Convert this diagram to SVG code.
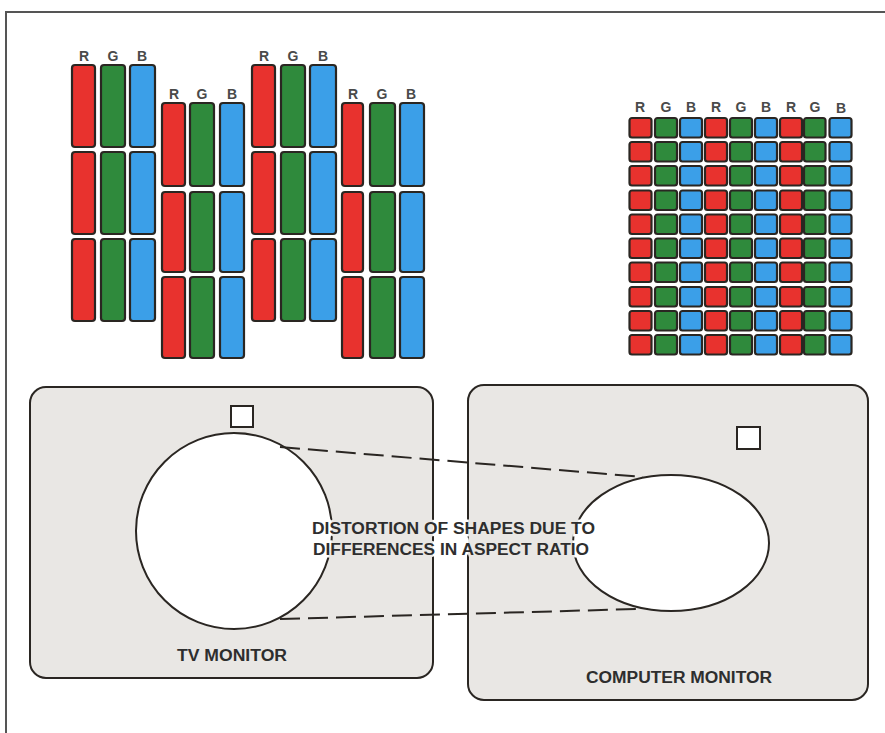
<svg xmlns="http://www.w3.org/2000/svg" width="885" height="733" viewBox="0 0 885 733">
<style>
.r{fill:#e8322e}.g{fill:#2f8a3c}.b{fill:#3b9fe8}
.cell rect{stroke:#2a2622;stroke-width:2.2}
.lbl{font-family:"Liberation Sans",Arial,sans-serif;font-weight:bold;fill:#4a4a4a;text-anchor:middle}
.t{font-family:"Liberation Sans",Arial,sans-serif;font-weight:bold;fill:#2e2e2e;font-size:16px}
.ol{fill:none;stroke:#2a2622;stroke-width:2}
.mon{fill:#e9e7e4}
</style>
<defs>
<mask id="knock" maskUnits="userSpaceOnUse" x="0" y="0" width="885" height="733">
<rect x="0" y="0" width="885" height="733" fill="#fff"/>
<g style="font-family:'Liberation Sans',Arial,sans-serif;font-weight:bold;font-size:16px" fill="#000" stroke="#000" stroke-width="5">
<text x="312" y="534" textLength="283" lengthAdjust="spacingAndGlyphs">DISTORTION OF SHAPES DUE TO</text>
<text x="313" y="555" textLength="276" lengthAdjust="spacingAndGlyphs">DIFFERENCES IN ASPECT RATIO</text>
</g>
</mask>
</defs>
<rect width="885" height="733" fill="#fff"/>
<g id="frame"><path d="M5 12 H885 M6 12 V733" fill="none" stroke="#555" stroke-width="2"/></g>

<g id="stripes" class="cell">
<g class="lbl" font-size="14"><text x="84" y="61">R</text><text x="113" y="61">G</text><text x="142" y="61">B</text>
<text x="174" y="99">R</text><text x="202" y="99">G</text><text x="232" y="99">B</text>
<text x="264" y="61">R</text><text x="293" y="61">G</text><text x="323" y="61">B</text>
<text x="353" y="99">R</text><text x="382" y="99">G</text><text x="411" y="99">B</text></g>
<g id="grp1">
<rect class="r" x="72" y="65" width="23" height="82" rx="3"/><rect class="g" x="101" y="65" width="24" height="82" rx="3"/><rect class="b" x="130" y="65" width="25" height="82" rx="3"/>
<rect class="r" x="72" y="152" width="23" height="82" rx="3"/><rect class="g" x="101" y="152" width="24" height="82" rx="3"/><rect class="b" x="130" y="152" width="25" height="82" rx="3"/>
<rect class="r" x="72" y="239" width="23" height="82" rx="3"/><rect class="g" x="101" y="239" width="24" height="82" rx="3"/><rect class="b" x="130" y="239" width="25" height="82" rx="3"/>
</g>
<g id="grp2">
<rect class="r" x="162" y="103" width="23" height="83" rx="3"/><rect class="g" x="190" y="103" width="24" height="83" rx="3"/><rect class="b" x="220" y="103" width="24" height="83" rx="3"/>
<rect class="r" x="162" y="192" width="23" height="80" rx="3"/><rect class="g" x="190" y="192" width="24" height="80" rx="3"/><rect class="b" x="220" y="192" width="24" height="80" rx="3"/>
<rect class="r" x="162" y="277" width="23" height="81" rx="3"/><rect class="g" x="190" y="277" width="24" height="81" rx="3"/><rect class="b" x="220" y="277" width="24" height="81" rx="3"/>
</g>
<g id="grp3">
<rect class="r" x="252" y="65" width="23" height="82" rx="3"/><rect class="g" x="281" y="65" width="24" height="82" rx="3"/><rect class="b" x="310" y="65" width="26" height="82" rx="3"/>
<rect class="r" x="252" y="152" width="23" height="82" rx="3"/><rect class="g" x="281" y="152" width="24" height="82" rx="3"/><rect class="b" x="310" y="152" width="26" height="82" rx="3"/>
<rect class="r" x="252" y="239" width="23" height="82" rx="3"/><rect class="g" x="281" y="239" width="24" height="82" rx="3"/><rect class="b" x="310" y="239" width="26" height="82" rx="3"/>
</g>
<g id="grp4">
<rect class="r" x="342" y="103" width="21" height="83" rx="3"/><rect class="g" x="370" y="103" width="25" height="83" rx="3"/><rect class="b" x="400" y="103" width="24" height="83" rx="3"/>
<rect class="r" x="342" y="192" width="21" height="80" rx="3"/><rect class="g" x="370" y="192" width="25" height="80" rx="3"/><rect class="b" x="400" y="192" width="24" height="80" rx="3"/>
<rect class="r" x="342" y="277" width="21" height="81" rx="3"/><rect class="g" x="370" y="277" width="25" height="81" rx="3"/><rect class="b" x="400" y="277" width="24" height="81" rx="3"/>
</g>
</g>

<g id="dotgrid" class="cell">
<g class="lbl" font-size="14"><text x="640" y="112">R</text><text x="666" y="112">G</text><text x="691" y="112">B</text><text x="716" y="112">R</text><text x="741" y="112">G</text><text x="766" y="112">B</text><text x="791" y="112">R</text><text x="815" y="112">G</text><text x="841" y="113">B</text></g>
<defs>
<g id="row">
<rect class="r" x="629.5" y="0" width="22" height="19.5" rx="2.5"/><rect class="g" x="655" y="0" width="22" height="19.5" rx="2.5"/><rect class="b" x="680" y="0" width="22" height="19.5" rx="2.5"/>
<rect class="r" x="705" y="0" width="22" height="19.5" rx="2.5"/><rect class="g" x="730" y="0" width="22" height="19.5" rx="2.5"/><rect class="b" x="755" y="0" width="22" height="19.5" rx="2.5"/>
<rect class="r" x="780" y="0" width="22" height="19.5" rx="2.5"/><rect class="g" x="804" y="0" width="21.5" height="19.5" rx="2.5"/><rect class="b" x="829.5" y="0" width="22" height="19.5" rx="2.5"/>
</g>
</defs>
<use href="#row" y="118"/><use href="#row" y="142"/><use href="#row" y="166"/><use href="#row" y="190.5"/><use href="#row" y="214.5"/>
<use href="#row" y="238.5"/><use href="#row" y="262.5"/><use href="#row" y="287"/><use href="#row" y="311"/><use href="#row" y="335"/>
</g>

<g id="tv-monitor">
<rect class="mon" x="30" y="387" width="403" height="291" rx="16"/>
<circle cx="234" cy="531" r="98" fill="#fff"/>
<g mask="url(#knock)">
<rect class="ol" x="30" y="387" width="403" height="291" rx="16"/>
<circle class="ol" cx="234" cy="531" r="98"/>
</g>
<rect x="231" y="406" width="22" height="21" fill="#fff" stroke="#2a2622" stroke-width="2"/>
<text class="t" x="177" y="661" textLength="110" lengthAdjust="spacingAndGlyphs">TV MONITOR</text>
</g>

<g id="computer-monitor">
<rect class="mon" x="468" y="385" width="400" height="315" rx="16"/>
<ellipse cx="671" cy="543" rx="98" ry="68" fill="#fff"/>
<g mask="url(#knock)">
<rect class="ol" x="468" y="385" width="400" height="315" rx="16"/>
<ellipse class="ol" cx="671" cy="543" rx="98" ry="68"/>
</g>
<rect x="737" y="427" width="23" height="22" fill="#fff" stroke="#2a2622" stroke-width="2"/>
<text class="t" x="586" y="683" textLength="186" lengthAdjust="spacingAndGlyphs">COMPUTER MONITOR</text>
</g>

<g id="connectors" mask="url(#knock)">
<line x1="280" y1="447" x2="643" y2="477" stroke="#2a2622" stroke-width="2" stroke-dasharray="20 8"/>
<line x1="280" y1="619" x2="637" y2="609" stroke="#2a2622" stroke-width="2" stroke-dasharray="20 8"/>
</g>

<g id="caption">
<text class="t" x="312" y="534" textLength="283" lengthAdjust="spacingAndGlyphs">DISTORTION OF SHAPES DUE TO</text>
<text class="t" x="313" y="555" textLength="276" lengthAdjust="spacingAndGlyphs">DIFFERENCES IN ASPECT RATIO</text>
</g>
</svg>
